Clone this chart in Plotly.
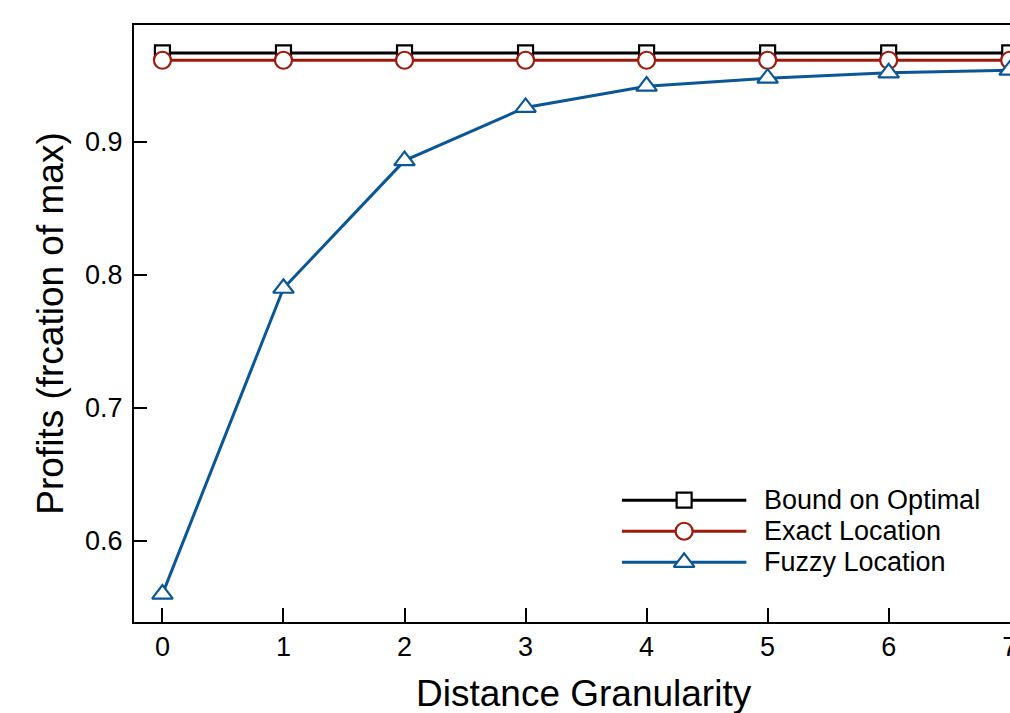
import plotly.graph_objects as go

# Profit vs. distance granularity for three location models
granularity = [0, 1, 2, 3, 4, 5, 6, 7]
bound_optimal = [0.967, 0.967, 0.967, 0.967, 0.967, 0.967, 0.967, 0.967]
exact_location = [0.9615, 0.9615, 0.9615, 0.9615, 0.9615, 0.9615, 0.9615, 0.9615]
fuzzy_location = [0.560, 0.790, 0.886, 0.926, 0.942, 0.948, 0.952, 0.954]

x_ticks = [0, 1, 2, 3, 4, 5, 6, 7]
y_ticks = [0.6, 0.7, 0.8, 0.9]
y_tick_labels = ["0.6", "0.7", "0.8", "0.9"]

FONT = "Liberation Sans, Arial, Helvetica, sans-serif"
BLACK = "#000000"
RED = "#9e1a0c"
BLUE = "#0b5796"

series = [
    ("Bound on Optimal", bound_optimal, BLACK, "square", 15),
    ("Exact Location", exact_location, RED, "circle", 17),
    ("Fuzzy Location", fuzzy_location, BLUE, "triangle-up", 18),
]

# hand-drawn legend box, in fractions of the plot area
LEG_X0, LEG_XM, LEG_X1, LEG_TEXT_X = 0.557, 0.628, 0.699, 0.717
LEG_ROWS = [0.204, 0.152, 0.100]

fig = go.Figure()
annotations = []
for (name, ys, color, symbol, size), row in zip(series, LEG_ROWS):
    marker = dict(symbol=symbol, size=size, color="white", opacity=1,
                  line=dict(color=color, width=2.2))
    fig.add_trace(go.Scatter(
        x=granularity, y=ys, name=name, mode="lines+markers",
        line=dict(color=color, width=3), marker=marker,
        cliponaxis=False, showlegend=False,
    ))
    # legend sample: line with a marker in the middle
    fig.add_trace(go.Scatter(
        x=[LEG_X0, LEG_X1], y=[row, row],
        xaxis="x2", yaxis="y2", mode="lines",
        line=dict(color=color, width=3),
        showlegend=False, hoverinfo="skip",
    ))
    fig.add_trace(go.Scatter(
        x=[LEG_XM], y=[row],
        xaxis="x2", yaxis="y2", mode="markers", marker=marker,
        showlegend=False, hoverinfo="skip",
    ))
    annotations.append(dict(
        text=name, x=LEG_TEXT_X, y=row, xref="x2", yref="y2",
        xanchor="left", yanchor="middle", showarrow=False,
        font=dict(size=27, family=FONT),
    ))

annotations.append(dict(
    text="Distance Granularity", x=3.48, xref="x", y=-0.12, yref="paper",
    xanchor="center", yanchor="middle", showarrow=False,
    font=dict(size=37, family=FONT),
))

fig.update_layout(
    width=1010, height=713,
    margin=dict(l=134, r=0, t=25, b=91, autoexpand=False),
    paper_bgcolor="white", plot_bgcolor="white",
    font=dict(family=FONT, color="black", size=27),
    showlegend=False,
    annotations=annotations,
    xaxis=dict(
        range=[-0.235, 7.0025], tickvals=x_ticks,
        ticktext=[str(v) for v in x_ticks],
        showgrid=False, zeroline=False, automargin=False,
        showline=True, linecolor="black", linewidth=2, mirror=True,
        ticks="inside", ticklen=14, tickwidth=2, tickcolor="black",
        tickfont=dict(size=27), ticklabeloverflow="allow",
    ),
    yaxis=dict(
        range=[0.539, 0.988], tickvals=y_ticks, ticktext=y_tick_labels,
        showgrid=False, zeroline=False, automargin=False,
        showline=True, linecolor="black", linewidth=2, mirror=False,
        ticks="inside", ticklen=13, tickwidth=2, tickcolor="black",
        tickfont=dict(size=27), ticklabelstandoff=4,
        title=dict(text="Profits (frcation of max)", font=dict(size=37), standoff=10),
    ),
    xaxis2=dict(overlaying="x", range=[0, 1], visible=False, fixedrange=True),
    yaxis2=dict(overlaying="y", range=[0, 1], visible=False, fixedrange=True),
)

fig.write_html("out.html")
